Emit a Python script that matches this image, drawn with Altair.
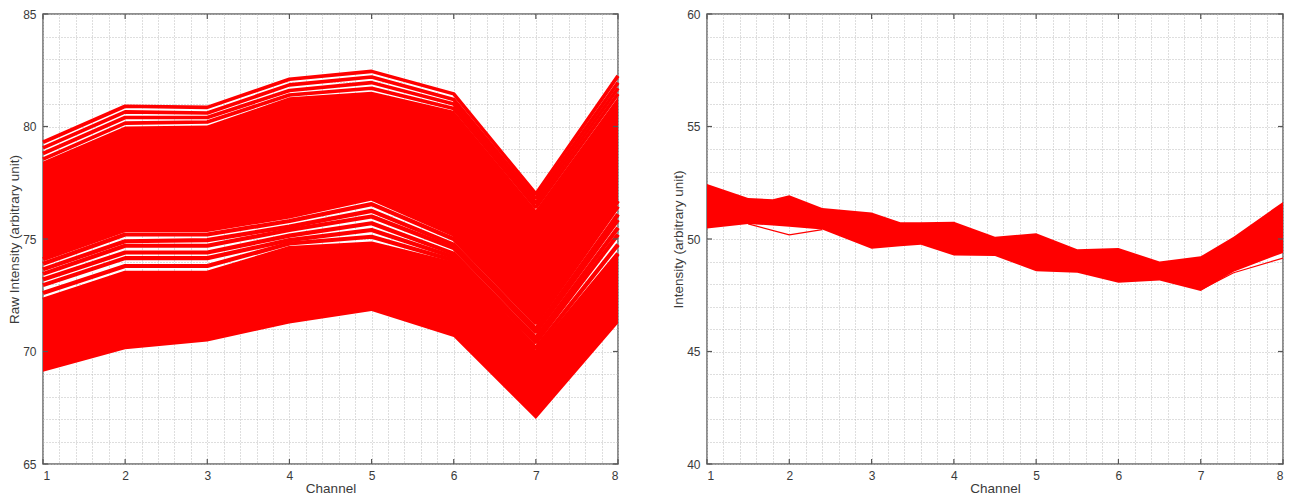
import altair as alt
import pandas as pd

# ---------------- data ----------------
channels = [1, 2, 3, 4, 5, 6, 7, 8]

# Left panel (raw intensity): individual lines along the top edge of the bundle
left_top_lines = {
    "t1": [79.3, 80.9, 80.85, 82.1, 82.45, 81.45, 77.0, 82.25],
    "t2": [79.05, 80.65, 80.6, 81.85, 82.2, 81.2, 76.8, 81.95],
    "t3": [78.8, 80.4, 80.4, 81.6, 81.95, 81.0, 76.6, 81.7],
    "t4": [78.55, 80.15, 80.2, 81.4, 81.7, 80.8, 76.4, 81.45],
}
# dense upper part of the bundle
left_upper_hi = [78.45, 80.0, 80.05, 81.3, 81.55, 80.7, 76.3, 81.3]
left_upper_lo = [74.1, 75.4, 75.4, 76.0, 76.8, 75.2, 71.4, 76.7]
# separated lines in the middle of the bundle
left_mid_lines = {
    "m1": [74.1, 75.4, 75.4, 76.0, 76.8, 75.2, 71.4, 76.7],
    "m2": [73.9, 75.2, 75.2, 75.8, 76.55, 75.0, 71.25, 76.45],
    "m3": [73.65, 74.9, 74.95, 75.55, 76.25, 74.75, 71.0, 76.1],
    "m4": [73.45, 74.7, 74.7, 75.4, 76.0, 74.6, 70.85, 75.85],
    "m5": [73.2, 74.4, 74.4, 75.15, 75.7, 74.35, 70.6, 75.5],
    "m6": [72.95, 74.15, 74.15, 74.95, 75.4, 74.2, 70.4, 75.2],
    "m7": [72.6, 73.8, 73.8, 74.8, 75.1, 74.05, 70.15, 74.75],
    "m8": [72.3, 73.5, 73.5, 74.6, 74.8, 73.9, 69.95, 74.35],
}
# dense lower part of the bundle
left_lower_hi = [72.3, 73.5, 73.5, 74.6, 74.8, 73.9, 69.95, 74.35]
left_lower_lo = [69.1, 70.1, 70.45, 71.25, 71.8, 70.65, 67.0, 71.25]

# Right panel (normalised intensity): envelope of the bundle
right_x = [1, 1.5, 1.8, 2, 2.4, 3, 3.35, 3.6, 4, 4.5, 5, 5.5, 6, 6.5, 7, 7.4, 8]
right_hi = [52.45, 51.82, 51.77, 51.94, 51.38, 51.18, 50.74, 50.74, 50.77,
            50.1, 50.26, 49.55, 49.6, 49.0, 49.23, 50.1, 51.65]
right_lo = [50.47, 50.67, 50.6, 50.55, 50.42, 49.57, 49.68, 49.74, 49.27,
            49.24, 48.57, 48.5, 48.06, 48.16, 47.69, 48.55, 49.38]
# stray lines below the bundle
right_out1_x = [1.5, 2, 2.4]
right_out1_y = [50.67, 50.18, 50.42]
right_out2_x = [7, 7.4, 8]
right_out2_y = [47.75, 48.5, 49.15]

x_ticks = [1, 2, 3, 4, 5, 6, 7, 8]
left_y_ticks = [65, 70, 75, 80, 85]
right_y_ticks = [40, 45, 50, 55, 60]

# ---------------- tables ----------------
def lines_df(d):
    rows = []
    for k, vals in d.items():
        for c, v in zip(channels, vals):
            rows.append({"id": k, "x": c, "y": v})
    return pd.DataFrame(rows)

left_top_df = lines_df(left_top_lines)
left_mid_df = lines_df(left_mid_lines)
left_band_df = pd.DataFrame(
    [{"id": "upper", "x": c, "y": lo, "y2": hi} for c, lo, hi in zip(channels, left_upper_lo, left_upper_hi)]
    + [{"id": "lower", "x": c, "y": lo, "y2": hi} for c, lo, hi in zip(channels, left_lower_lo, left_lower_hi)]
)
right_band_df = pd.DataFrame({"id": "band", "x": right_x, "y": right_lo, "y2": right_hi})
right_out_df = pd.DataFrame(
    [{"id": "o1", "x": a, "y": b} for a, b in zip(right_out1_x, right_out1_y)]
    + [{"id": "o2", "x": a, "y": b} for a, b in zip(right_out2_x, right_out2_y)]
)

RED = "#ff0000"
GRID = "#bdbdbd"
TXT = "#3a3a3a"
x_grid = [round(1 + 0.2 * i, 1) for i in range(36)]


def make_panel(ydom, ytitle, band_layers, W, H, yticks):
    y_grid = list(range(ydom[0], ydom[1] + 1))
    xs = alt.Scale(domain=[1, 8], nice=False, zero=False)
    ys = alt.Scale(domain=ydom, nice=False, zero=False)
    xax = alt.Axis(values=x_grid, grid=True, gridColor=GRID, gridDash=[1, 2], gridWidth=1,
                   ticks=False, domain=False, labelPadding=6, title="Channel", titlePadding=0,
                   labelExpr="abs(datum.value - round(datum.value)) < 0.01 ? format(datum.value, 'd') : ''")
    yax = alt.Axis(values=y_grid, grid=True, gridColor=GRID, gridDash=[1, 2], gridWidth=1,
                   ticks=False, domain=False, labelPadding=7, title=ytitle, titlePadding=1,
                   labelExpr="datum.value % 5 == 0 ? format(datum.value, 'd') : ''")

    def X():
        return alt.X("x:Q", scale=xs, axis=xax)

    def Y():
        return alt.Y("y:Q", scale=ys, axis=yax)

    layers = []
    for kind, df, extra in band_layers:
        if kind == "area":
            layers.append(alt.Chart(df).mark_area(color=RED, opacity=1).encode(
                x=X(), y=Y(), y2="y2:Q", detail="id:N"))
        else:
            layers.append(alt.Chart(df).mark_line(color=RED, strokeWidth=extra, strokeJoin="bevel").encode(
                x=X(), y=Y(), detail="id:N"))

    xt = pd.DataFrame({"x": x_ticks})
    yt = pd.DataFrame({"y": yticks})
    tick_style = dict(color="#555555", strokeWidth=1.2)
    layers += [
        alt.Chart(xt).mark_rule(**tick_style).encode(x=X(), y=alt.value(H), y2=alt.value(H - 5)),
        alt.Chart(xt).mark_rule(**tick_style).encode(x=X(), y=alt.value(0), y2=alt.value(5)),
        alt.Chart(yt).mark_rule(**tick_style).encode(y=Y(), x=alt.value(0), x2=alt.value(5)),
        alt.Chart(yt).mark_rule(**tick_style).encode(y=Y(), x=alt.value(W), x2=alt.value(W - 5)),
    ]
    return alt.layer(*layers).properties(width=W, height=H)


left = make_panel([65, 85], "Raw Intensity (arbitrary unit)",
                  [("area", left_band_df, None),
                   ("line", left_top_df, 3.6),
                   ("line", left_mid_df, 4.2)], 575, 450, left_y_ticks)
right = make_panel([40, 60], "Intensity (arbitrary unit)",
                   [("area", right_band_df, None),
                    ("line", right_out_df, 1.2)], 576, 450, right_y_ticks)

chart = alt.hconcat(left, right, spacing=49).properties(
    padding={"left": -2, "top": -1, "right": 0, "bottom": -2}
).configure_view(stroke="#6a6a6a", strokeWidth=1.5).configure_axis(
    labelFont="Liberation Sans", labelFontSize=12, labelColor=TXT,
    titleFont="Liberation Sans", titleFontSize=13.5, titleFontWeight="normal", titleColor=TXT
)

chart.save("out.html", embed_options={"renderer": "svg", "actions": False})
